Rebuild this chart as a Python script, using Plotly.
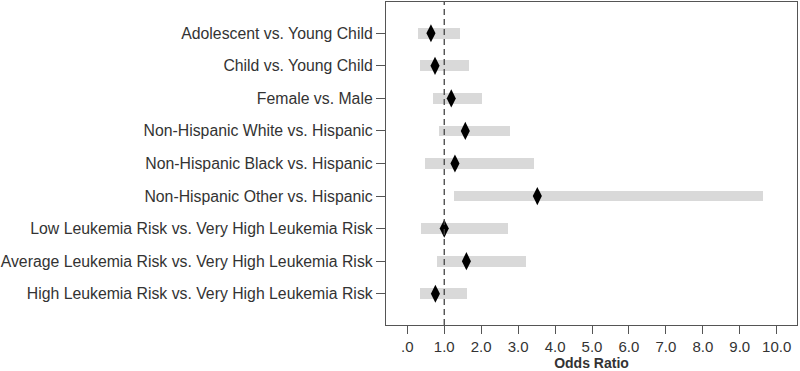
import plotly.graph_objects as go

categories = [
    "Adolescent vs. Young Child",
    "Child vs. Young Child",
    "Female vs. Male",
    "Non-Hispanic White vs. Hispanic",
    "Non-Hispanic Black vs. Hispanic",
    "Non-Hispanic Other vs. Hispanic",
    "Low Leukemia Risk vs. Very High Leukemia Risk",
    "Average Leukemia Risk vs. Very High Leukemia Risk",
    "High Leukemia Risk vs. Very High Leukemia Risk",
]
odds_ratio = [0.64, 0.75, 1.19, 1.57, 1.29, 3.52, 1.00, 1.60, 0.76]
ci_lower = [0.28, 0.33, 0.70, 0.87, 0.48, 1.26, 0.36, 0.80, 0.34]
ci_upper = [1.43, 1.66, 2.01, 2.78, 3.43, 9.64, 2.72, 3.21, 1.62]
tick_vals = [0, 1, 2, 3, 4, 5, 6, 7, 8, 9, 10]
tick_text = [".0", "1.0", "2.0", "3.0", "4.0", "5.0", "6.0", "7.0", "8.0", "9.0", "10.0"]
ref_value = 1.0

idx = list(range(len(categories)))

fig = go.Figure()
fig.add_trace(go.Bar(
    y=idx, x=[u - l for l, u in zip(ci_lower, ci_upper)], base=ci_lower,
    orientation="h", width=0.33, marker=dict(color="#d9d9d9", line=dict(width=0)),
    showlegend=False, hoverinfo="skip"))
fig.add_trace(go.Scatter(
    y=idx, x=odds_ratio, mode="markers",
    marker=dict(symbol="diamond-tall", size=13, color="black"),
    showlegend=False))
fig.add_shape(type="line", xref="x", yref="paper", x0=ref_value, x1=ref_value, y0=0, y1=1,
              line=dict(color="#444444", width=1.3, dash="6px,4px"))

fig.update_layout(
    width=800, height=371,
    margin=dict(l=386, r=3, t=2, b=46),
    plot_bgcolor="white", paper_bgcolor="white",
    font=dict(family="Liberation Sans, Arial", size=15.8, color="#333333"),
    xaxis=dict(range=[-0.577, 10.55], tickvals=tick_vals, ticktext=tick_text,
               automargin=False,
               tickfont=dict(size=15),
               showgrid=False, zeroline=False, showline=True, mirror=True,
               linecolor="#555555", linewidth=1.3, ticks="outside", ticklen=8,
               tickcolor="#555555",
               title=dict(text="<b>Odds Ratio</b>", font=dict(size=14, color="#333333"), standoff=2)),
    yaxis=dict(range=[8.96, -0.96], tickvals=idx, ticktext=categories,
               automargin=False,
               showgrid=False, zeroline=False, showline=True, mirror=True,
               linecolor="#555555", linewidth=1.3, ticks="outside", ticklen=9,
               tickcolor="#555555"),
    bargap=0,
)
fig.write_html("out.html", config={"displayModeBar": False},
               post_script="document.body.style.margin='0';document.body.style.overflow='hidden';")
